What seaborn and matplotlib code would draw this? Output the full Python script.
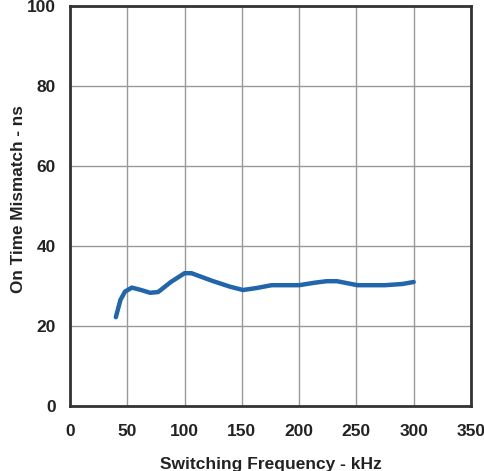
import matplotlib
matplotlib.use('Agg')
import matplotlib.pyplot as plt
import seaborn as sns

freq_khz = [40, 44, 48, 54, 62, 70, 77, 88, 100, 106, 125, 140, 151, 163, 176, 200, 213, 224, 233, 251, 275, 290, 300]
mismatch_ns = [22.2, 26.5, 28.6, 29.6, 29.0, 28.3, 28.5, 31.0, 33.2, 33.2, 31.2, 29.8, 29.0, 29.5, 30.2, 30.2, 30.8, 31.2, 31.2, 30.2, 30.2, 30.5, 31.0]

sns.set_style('white')
plt.rcParams['font.family'] = ['Liberation Sans', 'DejaVu Sans']
plt.rcParams['font.weight'] = 'bold'

fig = plt.figure(figsize=(4.84, 4.71), dpi=100)
ax = fig.add_axes([70 / 484, 65 / 471, 401 / 484, 400 / 471])

sns.lineplot(x=freq_khz, y=mismatch_ns, ax=ax, color='#2166ab', linewidth=3.2)

ax.set_xlim(0, 350)
ax.set_ylim(0, 100)
ax.set_xticks(range(0, 351, 50))
ax.set_yticks(range(0, 101, 20))
ax.grid(True, color='#999999', linewidth=1.0)
ax.tick_params(length=0, labelsize=12.5)
ax.tick_params(axis='x', pad=13)
ax.tick_params(axis='y', pad=10)
for lab in ax.get_xticklabels() + ax.get_yticklabels():
    lab.set_fontweight('bold')
    lab.set_color('#222222')
for s in ax.spines.values():
    s.set_color('#333333')
    s.set_linewidth(2)

ax.set_xlabel('Switching Frequency - kHz', fontsize=12.5, fontweight='bold', color='#222222')
ax.set_ylabel('On Time Mismatch - ns', fontsize=12.3, fontweight='bold', color='#222222')
ax.xaxis.set_label_coords(0.5, -0.127)
ax.yaxis.set_label_coords(-0.11, 0.517)

fig.savefig('out.png', dpi=100)
